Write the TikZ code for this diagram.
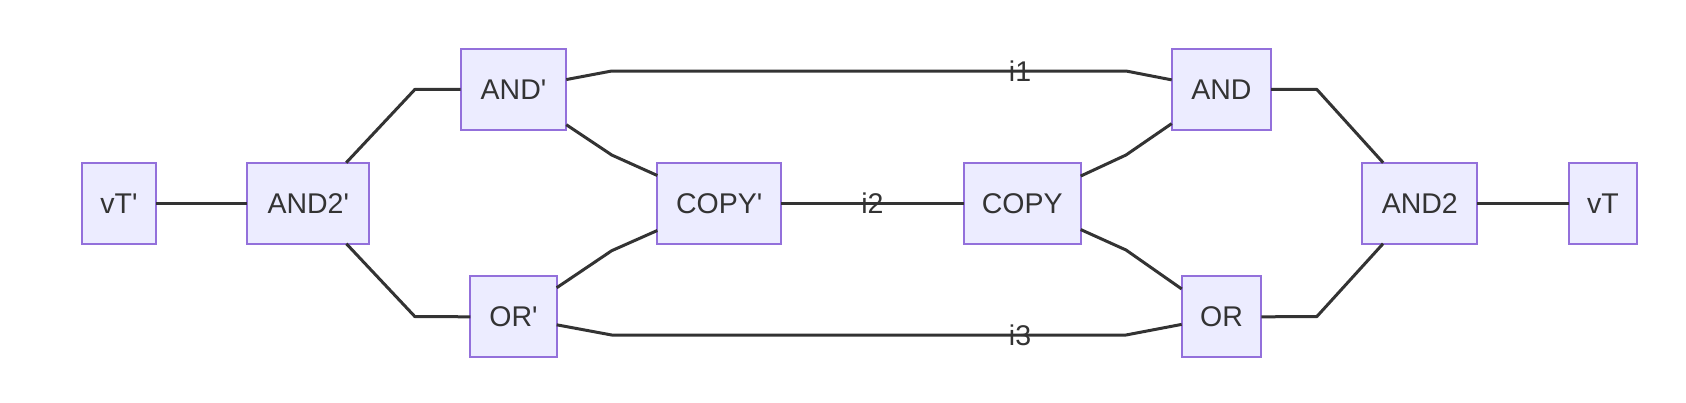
\documentclass[tikz,border=0pt]{standalone}
\usepackage{xcolor}
\usepackage{fontspec}
\setmainfont{Liberation Sans}
\usepackage{tikz}
\usetikzlibrary{positioning}

\definecolor{gatefill}{HTML}{ECECFF}
\definecolor{gateline}{HTML}{9370DB}
\definecolor{wire}{HTML}{333333}

\newcommand{\pr}{\textquotesingle}

\begin{document}
\begin{tikzpicture}[x=1pt, y=-1pt,
    gate/.style={rectangle, draw=gateline, fill=gatefill, line width=1.8pt,
      minimum height=81pt, inner sep=0pt, outer sep=0pt, text=wire,
      font=\fontsize{28.5}{34}\selectfont},
    lbl/.style={inner sep=0pt, text=wire, font=\fontsize{28.5}{34}\selectfont},
    link/.style={line width=3pt, draw=wire, line join=round}]
			\useasboundingbox (0,0) rectangle (1686,402);

			% Nodes
			\node (vTp) [gate, minimum width=74.6pt] at (119,203.2) {vT\pr};
			\node (ANDtwop) [gate, minimum width=122pt, right=91pt of vTp] {AND2\pr};
			\node (ANDp) [gate, minimum width=105.6pt, above right=32.7pt and 91.4pt of ANDtwop] {AND\pr};
			\node (ORp) [gate, minimum width=86.4pt, below right=32.6pt and 101pt of ANDtwop] {OR\pr};
			\node (COPYp) [gate, minimum width=123.7pt, below right=32.7pt and 91pt of ANDp] {COPY\pr};
			\node (COPY) [gate, minimum width=117pt, right=182.7pt of COPYp] {COPY};
			\node (AND) [gate, minimum width=99.3pt, above right=32.7pt and 91pt of COPY] {AND};
			\node (OR) [gate, minimum width=79.6pt, below right=32.6pt and 101pt of COPY] {OR};
			\node (ANDtwo) [gate, minimum width=115pt, below right=32.7pt and 91.3pt of AND] {AND2};
			\node (vT) [gate, minimum width=68pt, right=91.7pt of ANDtwo] {vT};

			% Edges
			\draw[link] (vTp) -- (ANDtwop);
			\draw[link] (ANDtwop) -- (415,89.3) -- (ANDp);
			\draw[link] (ANDtwop) -- (415,316.7) -- (ORp);
			\draw[link] (ANDp) -- (611.7,71) -- node[lbl, pos=0.794] {i1} (1126,71) -- (AND);
			\draw[link] (ANDp) -- (611.7,155) -- (COPYp);
			\draw[link] (ORp) -- (611.7,250.7) -- (COPYp);
			\draw[link] (ORp) -- (611.7,335) -- node[lbl, pos=0.794] {i3} (1126,335) -- (OR);
			\draw[link] (COPYp) -- node[lbl] {i2} (COPY);
			\draw[link] (COPY) -- (1126,155) -- (AND);
			\draw[link] (COPY) -- (1126,250) -- (OR);
			\draw[link] (AND) -- (1316.7,89.3) -- (ANDtwo);
			\draw[link] (OR) -- (1316.7,316.7) -- (ANDtwo);
			\draw[link] (ANDtwo) -- (vT);

		\end{tikzpicture}
\end{document}
